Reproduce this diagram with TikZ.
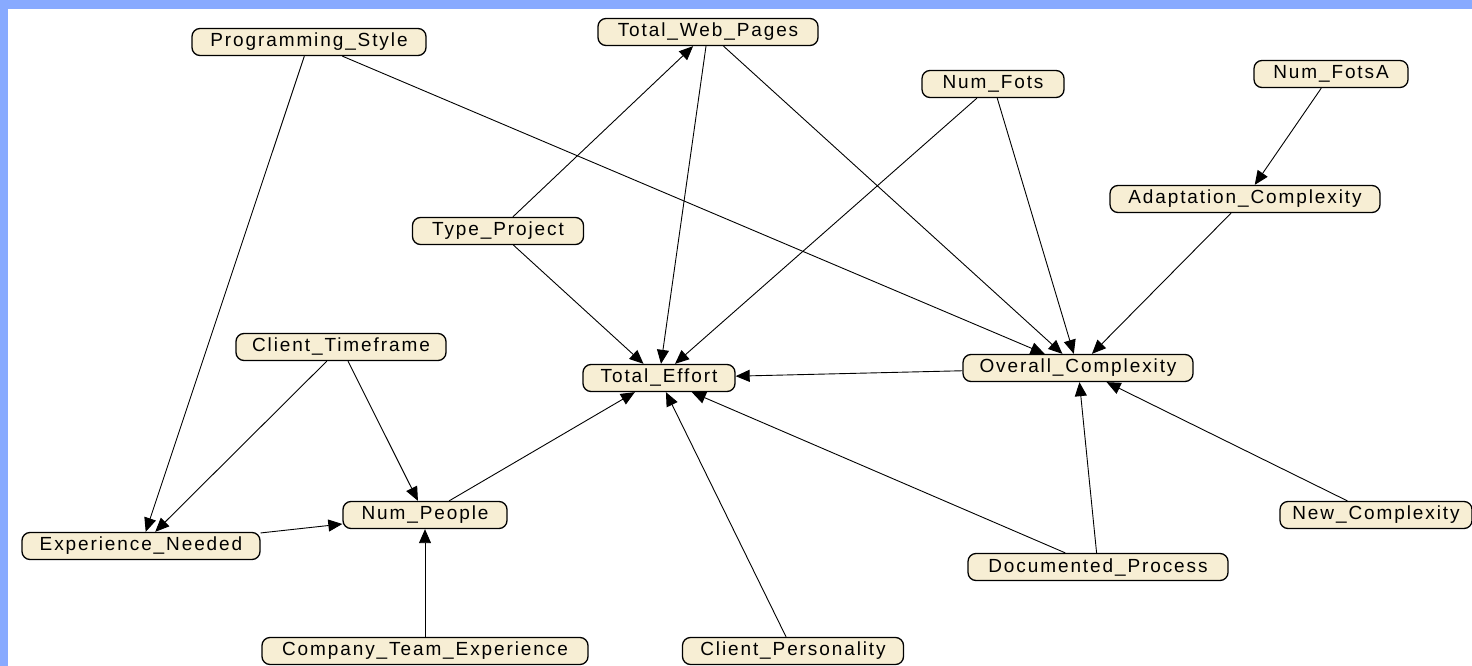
\documentclass[tikz,border=0pt]{standalone}
\usepackage{fontspec}
\setmainfont{Liberation Sans}[LetterSpace=10]
\usetikzlibrary{arrows.meta}
\definecolor{bandblue}{RGB}{136,170,255}
\definecolor{nodefill}{RGB}{247,238,212}
\tikzset{
  var/.style={draw=black, line width=1.3pt, fill=nodefill, rounded corners=8pt,
    minimum height=27pt, inner sep=0pt, font=\fontsize{19}{21}\selectfont},
  arr/.style={draw=black, line width=0.9pt, -{Triangle[length=14pt,width=12pt]}}
}
\begin{document}
\begin{tikzpicture}[x=1pt,y=-1pt]
\useasboundingbox (0,0) rectangle (1472,666);
\fill[white] (0,0) rectangle (1472,666);
\fill[bandblue] (0,0) rectangle (1472,9);
\fill[bandblue] (0,0) rectangle (8,666);

\node[var, minimum width=234pt] (ps) at (309,42) {Programming\_Style};
\node[var, minimum width=220pt] (twp) at (708,32) {Total\_Web\_Pages};
\node[var, minimum width=142pt] (nf) at (993,84) {Num\_Fots};
\node[var, minimum width=154pt] (nfa) at (1331,74) {Num\_FotsA};
\node[var, minimum width=270pt] (ac) at (1245,199) {Adaptation\_Complexity};
\node[var, minimum width=171pt] (tp) at (498,231) {Type\_Project};
\node[var, minimum width=210pt] (ct) at (341,347) {Client\_Timeframe};
\node[var, minimum width=152pt] (te) at (659,378) {Total\_Effort};
\node[var, minimum width=230pt] (oc) at (1078,368) {Overall\_Complexity};
\node[var, minimum width=164pt] (np) at (425,515) {Num\_People};
\node[var, minimum width=238pt] (en) at (141,546) {Experience\_Needed};
\node[var, minimum width=192pt] (nc) at (1376,515) {New\_Complexity};
\node[var, minimum width=260pt] (dp) at (1098,567) {Documented\_Process};
\node[var, minimum width=326pt] (cte) at (425,651) {Company\_Team\_Experience};
\node[var, minimum width=221pt] (cp) at (793,651) {Client\_Personality};

\draw[arr] (ps) -- (en);
\draw[arr] (ps) -- (oc);
\draw[arr] (tp) -- (twp);
\draw[arr] (tp) -- (te);
\draw[arr] (twp) -- (te);
\draw[arr] (twp) -- (oc);
\draw[arr] (nf) -- (te);
\draw[arr] (nf) -- (oc);
\draw[arr] (nfa) -- (ac);
\draw[arr] (ac) -- (oc);
\draw[arr] (oc) -- (te);
\draw[arr] (ct) -- (en);
\draw[arr] (ct) -- (np);
\draw[arr] (en) -- (np);
\draw[arr] (np) -- (te);
\draw[arr] (cte) -- (np);
\draw[arr] (cp) -- (te);
\draw[arr] (dp) -- (te);
\draw[arr] (dp) -- (oc);
\draw[arr] (nc) -- (oc);
\end{tikzpicture}
\end{document}
